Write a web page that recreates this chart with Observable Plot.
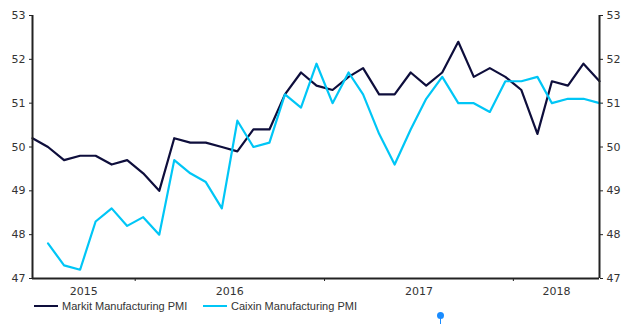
<!DOCTYPE html>
<html>
<head>
<meta charset="utf-8">
<script src="https://cdn.jsdelivr.net/npm/d3@7"></script>
<script src="https://cdn.jsdelivr.net/npm/@observablehq/plot@0.6"></script>
<style>
  html, body { margin: 0; padding: 0; background: #fff; }
  #wrap { position: relative; width: 640px; height: 324px; overflow: hidden; }
  .legend { position: absolute; left: 0; top: 298px; height: 20px; font-family: "Liberation Sans", Arial, sans-serif; font-size: 11px; color: #333; }
  .item { position: absolute; top: 0; white-space: nowrap; display: flex; align-items: center; height: 16px; }
  .swatch { display: inline-block; width: 24px; height: 2px; margin-right: 4px; }
  .pin { position: absolute; left: 437px; top: 312px; width: 7px; height: 7px; border-radius: 50%; background: #1a8cff; }
  .pinline { position: absolute; left: 440px; top: 318px; width: 1px; height: 6px; background: #1a8cff; }
</style>
</head>
<body>
<div id="wrap"></div>
<script>
// Monthly data, June 2015 – June 2018
const startYear = 2015, startMonth = 5; // June (0-based)
const markit = [50.2, 50.0, 49.7, 49.8, 49.8, 49.6, 49.7,
  49.4, 49.0, 50.2, 50.1, 50.1, 50.0, 49.9, 50.4, 50.4, 51.2, 51.7, 51.4,
  51.3, 51.6, 51.8, 51.2, 51.2, 51.7, 51.4, 51.7, 52.4, 51.6, 51.8, 51.6,
  51.3, 50.3, 51.5, 51.4, 51.9, 51.5];
const caixin = [null, 47.8, 47.3, 47.2, 48.3, 48.6, 48.2,
  48.4, 48.0, 49.7, 49.4, 49.2, 48.6, 50.6, 50.0, 50.1, 51.2, 50.9, 51.9,
  51.0, 51.7, 51.2, 50.3, 49.6, 50.4, 51.1, 51.6, 51.0, 51.0, 50.8, 51.5,
  51.5, 51.6, 51.0, 51.1, 51.1, 51.0];
const yearLabels = ["2015", "2016", "2017", "2018"];
const yTicks = [47, 48, 49, 50, 51, 52, 53];
const seriesNames = ["Markit Manufacturing PMI", "Caixin Manufacturing PMI"];
const colors = ["#0e0e3c", "#00c6f6"];

const dates = markit.map((_, i) => new Date(Date.UTC(startYear, startMonth + i, 1)));
const rows = [];
markit.forEach((v, i) => rows.push({date: dates[i], value: v, series: seriesNames[0]}));
caixin.forEach((v, i) => rows.push({date: dates[i], value: v, series: seriesNames[1]}));

const x0 = dates[0], x1 = dates[dates.length - 1];
// year boundaries: midway between December and January
const boundaries = [2015, 2016, 2017].map(y => new Date((Date.UTC(y, 11, 1) + Date.UTC(y + 1, 0, 1)) / 2));
const edges = [x0, ...boundaries, x1];
const yearPos = yearLabels.map((label, i) => ({label, date: new Date((+edges[i] + +edges[i + 1]) / 2)}));

const font = "DejaVu Sans, Verdana, sans-serif";
const chart = Plot.plot({
  width: 640,
  height: 298,
  marginLeft: 32,
  marginRight: 41,
  marginTop: 15,
  marginBottom: 20,
  style: {fontFamily: font, fontSize: "11px", color: "#333", background: "#fff"},
  x: {type: "utc", domain: [x0, x1]},
  y: {domain: [47, 53]},
  color: {domain: seriesNames, range: colors},
  marks: [
    Plot.axisY(yTicks, {anchor: "left", tickSize: 3, tickPadding: 4, label: null, stroke: "#222", fill: "#333"}),
    Plot.axisY(yTicks, {anchor: "right", tickSize: 3, tickPadding: 4, label: null, stroke: "#222", fill: "#333"}),
    Plot.axisX(boundaries, {anchor: "bottom", tickSize: 3, tickFormat: () => "", label: null, stroke: "#222"}),
    Plot.text(yearPos, {x: "date", y: () => 47, text: "label", dy: 13, fill: "#333", fontSize: 11}),
    Plot.line(rows, {x: "date", y: "value", z: "series", stroke: "series", strokeWidth: 2.2, curve: "linear"}),
    Plot.ruleX([x0, x1], {stroke: "#222", strokeWidth: 2}),
    Plot.ruleY([47], {stroke: "#222", strokeWidth: 2})
  ]
});

const wrap = document.getElementById("wrap");
wrap.appendChild(chart);

const legend = document.createElement("div");
legend.className = "legend";
const legendX = [34, 203];
seriesNames.forEach((name, i) => {
  const it = document.createElement("div");
  it.className = "item";
  it.style.left = legendX[i] + "px";
  const sw = document.createElement("span");
  sw.className = "swatch";
  sw.style.background = colors[i];
  it.appendChild(sw);
  it.appendChild(document.createTextNode(name));
  legend.appendChild(it);
});
wrap.appendChild(legend);

const pin = document.createElement("div"); pin.className = "pin"; wrap.appendChild(pin);
const pinline = document.createElement("div"); pinline.className = "pinline"; wrap.appendChild(pinline);
</script>
</body>
</html>
